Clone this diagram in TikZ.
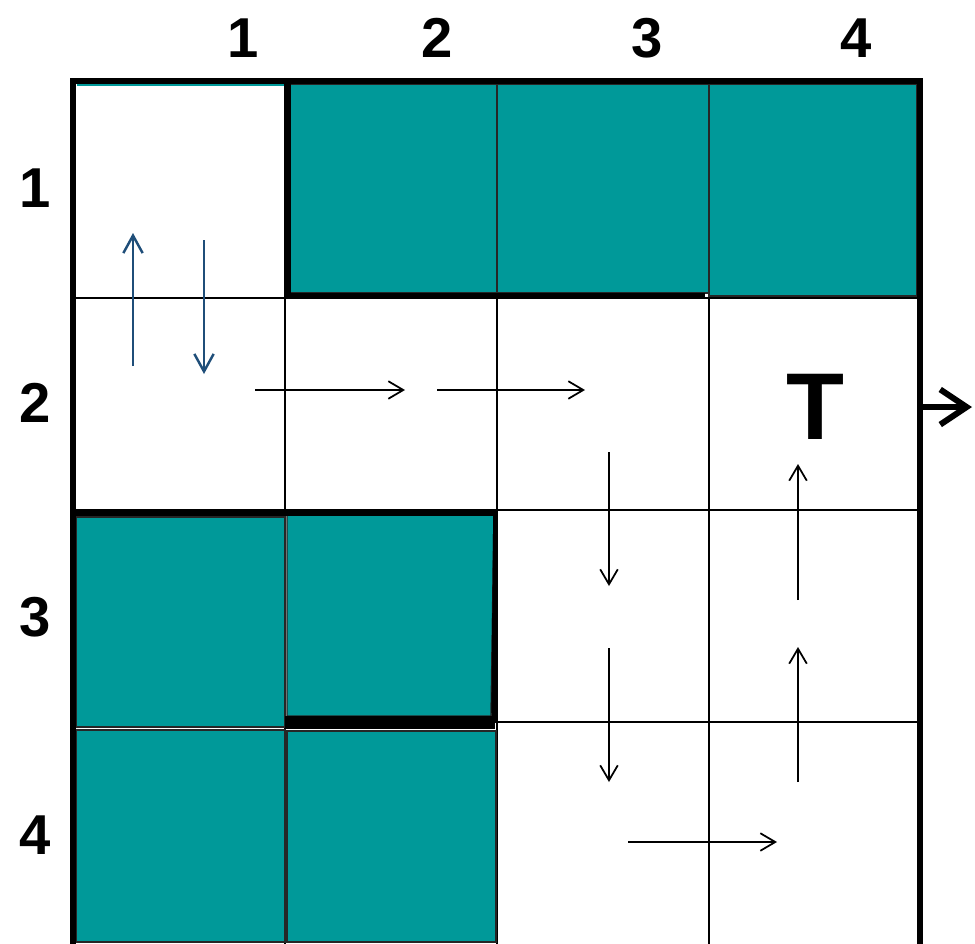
\documentclass[tikz,border=0pt]{standalone}
\usepackage{fontspec}
\setmainfont{Liberation Sans}
\usetikzlibrary{arrows.meta}
\definecolor{wallteal}{RGB}{0,153,153}
\definecolor{pathblue}{RGB}{31,78,121}

\begin{document}
\begin{tikzpicture}[x=0.02cm, y=-0.02cm,
    wall/.style={fill=wallteal, draw=black!85, line width=0.8pt},
    thickwall/.style={line width=3.2pt},
    move/.style={line width=1pt, -{Straight Barb[length=8.5pt, width=10pt]}},
    bluemove/.style={pathblue, line width=1.4pt, -{Straight Barb[length=10pt, width=11pt]}},
    lbl/.style={font=\fontsize{32}{32}\selectfont\bfseries}]
    \useasboundingbox (0,0) rectangle (975,944);
    % thin grid
    \foreach \x in {285,497,709} {
        \draw[line width=1.1pt] (\x,80) -- (\x,950);
    }
    \foreach \y in {298,510,722} {
        \draw[line width=1.1pt] (73,\y) -- (920,\y);
    }
    % walls (teal cells)
    \fill[wallteal] (77,83) rectangle (284,86);
    \draw[wall] (290,84) rectangle (497,293);
    \draw[wall] (497,84) rectangle (709,293);
    \draw[wall] (709,84) rectangle (917,296);
    \draw[wall] (76,517) rectangle (285,727);
    \draw[wall] (287,514) -- (494,514) -- (491,716) -- (287,716) -- cycle;
    \draw[wall] (76,730) rectangle (285,942);
    \draw[wall] (287,731) rectangle (496,942);
    % thick edges round the walls
    \draw[thickwall] (288,82) -- (288,296) -- (705,296);
    \draw[thickwall] (73,513) -- (497,513);
    \draw[thickwall, line width=2.6pt] (495.5,511) -- (493.5,722);
    \draw[line width=7pt] (285,722.5) -- (495,722.5);
    % outer border
    \draw[line width=3.4pt] (73,950) -- (73,81) -- (920,81) -- (920,950);
    % column and row numbers
    \foreach \n/\x in {1/243, 2/437, 3/647, 4/856} {
        \node[lbl] (col\n) at (\x,38) {\n};
    }
    \foreach \n/\y in {1/188, 2/403, 3/617, 4/835} {
        \node[lbl] (row\n) at (35,\y) {\n};
    }
    \node[font=\fontsize{54}{54}\selectfont\bfseries] (target) at (815,407) {T};
    % path through the grid
    \draw[bluemove] (133,366) -- (133,233);
    \draw[bluemove] (204,240) -- (204,374);
    \foreach \a/\b in {{255,390}/{405,390}, {437,390}/{585,390},
                       {609,452}/{609,586}, {609,648}/{609,782},
                       {628,842}/{777,842}, {798,782}/{798,647},
                       {798,600}/{798,464}} {
        \draw[move] (\a) -- (\b);
    }
    % exit
    \draw[line width=3.4pt, line cap=round, line join=round,
          -{Straight Barb[length=15pt, width=20pt]}] (922,407) -- (972,407);
\end{tikzpicture}
\end{document}
